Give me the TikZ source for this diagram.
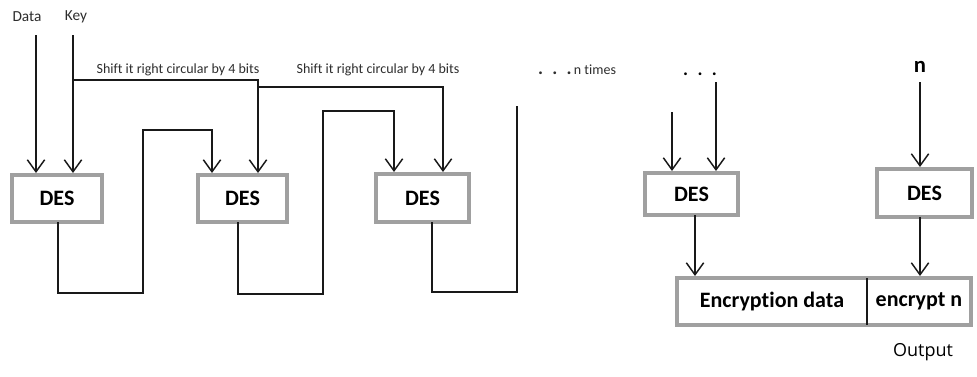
\documentclass[tikz,border=0pt]{standalone}
\usepackage{fontspec}
\setmainfont{Carlito}[Ligatures=NoCommon]
\newfontfamily\outfont{Open Sans}
\usetikzlibrary{arrows.meta,calc}
\definecolor{boxgray}{RGB}{160,160,160}
\definecolor{wirecol}{RGB}{25,25,25}
\definecolor{labcol}{RGB}{45,45,45}
\begin{document}
\begin{tikzpicture}[x=0.75pt,y=-0.75pt,
  desbox/.style={draw=boxgray, line width=3pt, fill=white, text=black,
    font=\bfseries\fontsize{16.5}{18}\selectfont, inner sep=0pt, outer sep=0pt},
  cell/.style={inner sep=0pt, outer sep=0pt, text=black,
    font=\bfseries\fontsize{16.5}{18}\selectfont, minimum height=35.25pt},
  wire/.style={line width=1.1pt, draw=wirecol},
  arr/.style={wire, shorten >=1.5pt, -{Straight Barb[length=9pt,width=13pt,line width=1.1pt]}},
  lbl/.style={font=\fontsize{10.5}{12}\selectfont, text=labcol, inner sep=0pt}]
\useasboundingbox (0,0) rectangle (977,376);

% labels
\node[lbl, font=\fontsize{11.5}{12}\selectfont] (data) at (27,17) {Data};
\node[lbl, font=\fontsize{11.5}{12}\selectfont] (key) at (76,17) {Key};
\node[lbl] (sh1) at (178,70) {Shift it right circular by 4 bits};
\node[lbl] (sh2) at (378,70) {Shift it right circular by 4 bits};
\node[lbl, anchor=base] (nt) at (577,74) {\textbf{\fontsize{14}{14}\selectfont .\,\,\,.\,\,\,.}\,n times};
\node[inner sep=0pt, anchor=base, font=\bfseries\fontsize{14}{14}\selectfont] (dots) at (700,75) {.\,\,\,.\,\,\,.};
\node[inner sep=0pt, font=\bfseries\fontsize{17}{18}\selectfont] (n) at (920,67) {n};
\node[inner sep=0pt, font=\outfont\fontsize{13.5}{16}\selectfont] (out) at (923,352) {Output};

% DES boxes
\node[desbox, minimum width=67.5pt, minimum height=35.25pt] (d1) at (57,198.5) {DES};
\node[desbox, minimum width=66.75pt, minimum height=35.25pt] (d2) at (242.5,198.5) {DES};
\node[desbox, minimum width=69.75pt, minimum height=36pt] (d3) at (422.5,198) {DES};
\node[desbox, minimum width=69.75pt, minimum height=31.5pt] (d4) at (691.5,194) {DES};
\node[desbox, minimum width=71.25pt, minimum height=36pt] (d5) at (924.5,193) {DES};

% output cells
\node[cell, minimum width=142.5pt] (encd) at (772,301.5) {Encryption data};
\node[cell, minimum width=78pt] (encn) at (919,301.5) {encrypt n};
\draw[boxgray, line width=3pt] (encd.north west) rectangle (encn.south east);
\draw[wire, line width=0.8pt] (encd.north east) -- (encd.south east);

% data and key
\coordinate (dataTop) at (36,35);
\coordinate (keyTop) at (73,35);
\draw[arr] (dataTop) -- (dataTop |- d1.north);
\draw[arr] (keyTop) -- (keyTop |- d1.north);
\coordinate (k1) at (73,80);
\draw[arr] (k1) -| ($(d2.north)+(15.5,0)$);
\coordinate (k2) at (258,87);
\draw[arr] (k2) -| ($(d3.north)+(20.5,0)$);

% chaining
\draw[arr] ($(d1.south)+(1,0)$) |- (143,293) |- ($(d2.north)+(-30.5,-45)$) -- ($(d2.north)+(-30.5,0)$);
\draw[arr] ($(d2.south)+(-4.5,0)$) |- (323,294) |- ($(d3.north)+(-28.5,-63)$) -- ($(d3.north)+(-28.5,0)$);
\coordinate (openEnd) at (517,106);
\draw[wire] ($(d3.south)+(9.5,0)$) |- (517,292) -- (openEnd);

% right part
\coordinate (i4a) at (672,112);
\coordinate (i4b) at (716,82);
\draw[arr] (i4a) -- (i4a |- d4.north);
\draw[arr] (i4b) -- (i4b |- d4.north);
\coordinate (o4) at ($(d4.south)+(3.5,0)$);
\draw[arr] (o4) -- (o4 |- encd.north);
\coordinate (nTop) at (920,82);
\draw[arr] (nTop) -- (nTop |- d5.north);
\coordinate (o5) at ($(d5.south)+(-4.5,0)$);
\draw[arr] (o5) -- (o5 |- encn.north);
\end{tikzpicture}
\end{document}
